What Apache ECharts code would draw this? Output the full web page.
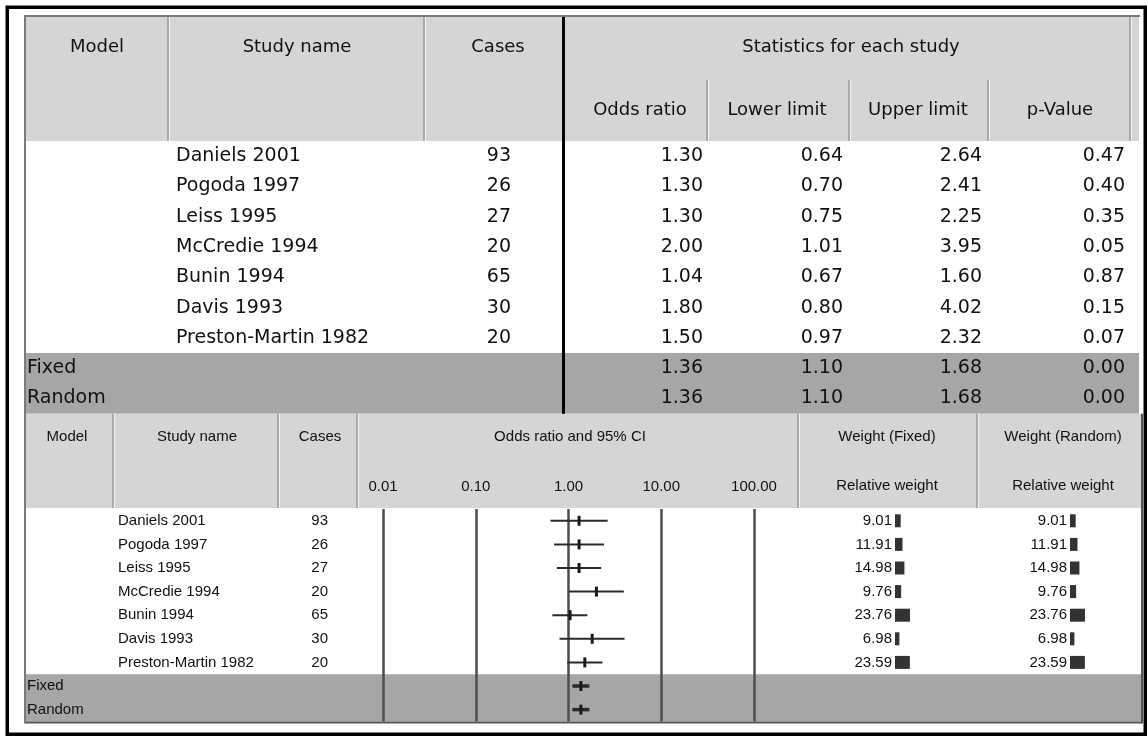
<!DOCTYPE html>
<html>
<head>
<meta charset="utf-8">
<script src="https://cdn.jsdelivr.net/npm/echarts@6/dist/echarts.min.js"></script>
<style>
  html, body { margin: 0; padding: 0; background: #fff; }
  #chart { width: 1148px; height: 736px; }
</style>
</head>
<body>
<div id="chart"></div>
<script>
// ---- data ----
const studies = ['Daniels 2001', 'Pogoda 1997', 'Leiss 1995', 'McCredie 1994', 'Bunin 1994', 'Davis 1993', 'Preston-Martin 1982'];
const cases = [93, 26, 27, 20, 65, 30, 20];
const oddsRatio = [1.30, 1.30, 1.30, 2.00, 1.04, 1.80, 1.50];
const lowerLimit = [0.64, 0.70, 0.75, 1.01, 0.67, 0.80, 0.97];
const upperLimit = [2.64, 2.41, 2.25, 3.95, 1.60, 4.02, 2.32];
const pValue = [0.47, 0.40, 0.35, 0.05, 0.87, 0.15, 0.07];
const models = ['Fixed', 'Random'];
const pooledOR = [1.36, 1.36];
const pooledLower = [1.10, 1.10];
const pooledUpper = [1.68, 1.68];
const pooledP = [0.00, 0.00];
const weightFixed = [9.01, 11.91, 14.98, 9.76, 23.76, 6.98, 23.59];
const weightRandom = [9.01, 11.91, 14.98, 9.76, 23.76, 6.98, 23.59];
const scaleTicks = [0.01, 0.10, 1.00, 10.00, 100.00];

// ---- layout ----
const rowKeys = studies.concat(models);
const nStudies = studies.length;
const UP = { top: 141, rowH: 30.3 };
const LOW = { top: 509, rowH: 23.6 };
const upFont = '19px "DejaVu Sans", sans-serif';
const upHeadFont = '18px "DejaVu Sans", sans-serif';
const lowFamily = '"Liberation Sans", sans-serif';
const lowFont = '15px ' + lowFamily;
const ink = '#111';
const fmt = v => Number(v).toFixed(2);

function txt(x, y, text, font, align, z) {
  return {
    type: 'text', x: x, y: y, z: z || 60, silent: true,
    style: { text: text, font: font, fill: ink, align: align || 'center', verticalAlign: 'middle',
             textAlign: align || 'center', textVerticalAlign: 'middle' }
  };
}
function rect(x, y, w, h, fill, z) {
  return { type: 'rect', z: z == null ? -5 : z, silent: true, shape: { x: x, y: y, width: w, height: h }, style: { fill: fill } };
}
function vline(x, y1, y2, color, w, z) {
  return { type: 'line', z: z || 40, silent: true, shape: { x1: x, y1: y1, x2: x, y2: y2 }, style: { stroke: color, lineWidth: w } };
}
function sep(x, y1, y2) {
  // sunken header divider: dark stroke with light edge
  return [vline(x, y1, y2, '#9a9a9a', 1.5), vline(x + 1.5, y1, y2, '#f4f4f4', 1)];
}

const upBandTop = UP.top + nStudies * UP.rowH;
const upBottom = UP.top + rowKeys.length * UP.rowH;
const lowBandTop = LOW.top + nStudies * LOW.rowH;
const lowBottom = LOW.top + rowKeys.length * LOW.rowH;

const graphics = [
  rect(0, 0, 1148, 736, '#ffffff', -20),
  // upper table
  rect(25, 17, 1114, UP.top - 17, '#d5d5d5'),
  rect(25, upBandTop, 1114, upBottom - upBandTop, '#a6a6a6'),
  ...sep(168, 17, UP.top), ...sep(424, 17, UP.top),
  ...sep(707, 80, UP.top), ...sep(849, 80, UP.top), ...sep(988, 80, UP.top), ...sep(1130, 17, UP.top),
  vline(563.5, 17, upBottom, '#000', 3, 45),
  // lower table
  rect(25, upBottom, 1117, LOW.top - 1 - upBottom, '#d5d5d5'),
  rect(25, lowBandTop, 1117, lowBottom - lowBandTop, '#a6a6a6'),
  ...sep(113, upBottom, LOW.top - 1), ...sep(278, upBottom, LOW.top - 1), ...sep(357, upBottom, LOW.top - 1),
  ...sep(798, upBottom, LOW.top - 1), ...sep(977, upBottom, LOW.top - 1),
  { type: 'line', z: 40, silent: true, shape: { x1: 25, y1: lowBottom + 1, x2: 1142, y2: lowBottom + 1 }, style: { stroke: '#555', lineWidth: 2 } },
  vline(1142, upBottom, lowBottom + 2, '#555', 2),
  // panel edges and outer frame
  { type: 'polyline', z: 40, silent: true, shape: { points: [[25, lowBottom + 2], [25, 16], [1140, 16]] }, style: { stroke: '#7a7a7a', lineWidth: 2, fill: null } },
  { type: 'rect', z: 70, silent: true, shape: { x: 7.25, y: 7.25, width: 1138, height: 727 }, style: { stroke: '#000', lineWidth: 3.5, fill: null } },
  // upper headers
  txt(97, 47, 'Model', upHeadFont), txt(297, 47, 'Study name', upHeadFont), txt(498, 47, 'Cases', upHeadFont),
  txt(851, 47, 'Statistics for each study', upHeadFont),
  txt(640, 110, 'Odds ratio', upHeadFont), txt(777, 110, 'Lower limit', upHeadFont),
  txt(918, 110, 'Upper limit', upHeadFont), txt(1060, 110, 'p-Value', upHeadFont),
  // lower headers
  txt(67, 437, 'Model', lowFont), txt(197, 437, 'Study name', lowFont), txt(320, 437, 'Cases', lowFont),
  txt(570, 437, 'Odds ratio and 95% CI', lowFont),
  txt(887, 437, 'Weight (Fixed)', lowFont), txt(1063, 437, 'Weight (Random)', lowFont),
  txt(887, 486, 'Relative weight', lowFont), txt(1063, 486, 'Relative weight', lowFont)
];

// ---- table bodies drawn row by row on a category axis ----
function upperRow(params, api) {
  const i = params.dataIndex;
  const y = api.coord([0, i])[1];
  const t = (x, s, a) => ({ type: 'text', x: x, y: y, style: { text: s, font: upFont, fill: ink, align: a, verticalAlign: 'middle', textAlign: a, textVerticalAlign: 'middle' } });
  if (i < nStudies) {
    return { type: 'group', children: [
      t(176, studies[i], 'left'), t(511, String(cases[i]), 'right'),
      t(703, fmt(oddsRatio[i]), 'right'), t(843, fmt(lowerLimit[i]), 'right'),
      t(982, fmt(upperLimit[i]), 'right'), t(1125, fmt(pValue[i]), 'right')
    ] };
  }
  const k = i - nStudies;
  return { type: 'group', children: [
    t(27, models[k], 'left'),
    t(703, fmt(pooledOR[k]), 'right'), t(843, fmt(pooledLower[k]), 'right'),
    t(982, fmt(pooledUpper[k]), 'right'), t(1125, fmt(pooledP[k]), 'right')
  ] };
}
function lowerRow(params, api) {
  const i = params.dataIndex;
  const y = api.coord([0, i])[1];
  const t = (x, s, a) => ({ type: 'text', x: x, y: y, style: { text: s, font: lowFont, fill: ink, align: a, verticalAlign: 'middle', textAlign: a, textVerticalAlign: 'middle' } });
  if (i < nStudies) {
    return { type: 'group', children: [t(118, studies[i], 'left'), t(328, String(cases[i]), 'right')] };
  }
  return { type: 'group', children: [t(27, models[i - nStudies], 'left')] };
}

// ---- forest marks: CI line plus point-estimate tick ----
const forestData = rowKeys.map((_, i) => i < nStudies
  ? [lowerLimit[i], upperLimit[i], oddsRatio[i], i]
  : [pooledLower[i - nStudies], pooledUpper[i - nStudies], pooledOR[i - nStudies], i]);

function forestItem(params, api) {
  const row = api.value(3);
  const pooled = params.dataIndex >= nStudies;
  const a = api.coord([api.value(0), row]);
  const b = api.coord([api.value(1), row]);
  const c = api.coord([api.value(2), row]);
  const lw = pooled ? 3.5 : 2;
  return { type: 'group', children: [
    { type: 'line', shape: { x1: a[0], y1: a[1], x2: b[0], y2: b[1] }, style: { stroke: '#2a2a2a', lineWidth: lw } },
    { type: 'rect', shape: { x: c[0] - 1.5, y: c[1] - 5, width: 3, height: 10 }, style: { fill: '#1a1a1a' } }
  ] };
}

const hiddenCat = (grid) => ({ type: 'category', gridIndex: grid, data: rowKeys, inverse: true, show: false });
const pixelX = (grid) => ({ type: 'value', gridIndex: grid, min: 0, max: 1148, show: false });

const option = {
  animation: false,
  backgroundColor: '#ffffff',
  graphic: { elements: graphics },
  grid: [
    { left: 0, width: 1148, top: UP.top, height: UP.rowH * rowKeys.length },
    { left: 0, width: 1148, top: LOW.top, height: LOW.rowH * rowKeys.length },
    { left: 383, width: 371, top: LOW.top, height: LOW.rowH * rowKeys.length },
    { left: 895, width: 25.2, top: LOW.top, height: LOW.rowH * rowKeys.length },
    { left: 1070, width: 25.2, top: LOW.top, height: LOW.rowH * rowKeys.length }
  ],
  xAxis: [
    pixelX(0), pixelX(1),
    { type: 'log', logBase: 10, gridIndex: 2, min: scaleTicks[0], max: scaleTicks[scaleTicks.length - 1], position: 'top',
      axisLine: { show: false }, axisTick: { show: false },
      axisLabel: { margin: 15, color: ink, fontSize: 15, fontFamily: lowFamily, formatter: v => fmt(v) },
      splitLine: { show: true, lineStyle: { color: '#4d4d4d', width: 2.5 } } },
    { type: 'value', gridIndex: 3, min: 0, max: 40, show: false },
    { type: 'value', gridIndex: 4, min: 0, max: 40, show: false }
  ],
  yAxis: [hiddenCat(0), hiddenCat(1), hiddenCat(2), hiddenCat(3), hiddenCat(4)],
  series: [
    { type: 'custom', xAxisIndex: 0, yAxisIndex: 0, silent: true, clip: false, z: 10,
      data: rowKeys.map((_, i) => [0, i]), encode: { x: 0, y: 1 }, renderItem: upperRow },
    { type: 'custom', xAxisIndex: 1, yAxisIndex: 1, silent: true, clip: false, z: 10,
      data: rowKeys.map((_, i) => [0, i]), encode: { x: 0, y: 1 }, renderItem: lowerRow },
    { type: 'custom', xAxisIndex: 2, yAxisIndex: 2, silent: true, clip: false, z: 10,
      data: forestData, encode: { x: [0, 1, 2], y: 3 }, renderItem: forestItem },
    { type: 'bar', xAxisIndex: 3, yAxisIndex: 3, silent: true, data: weightFixed, barWidth: 13,
      itemStyle: { color: '#333' },
      label: { show: true, position: 'left', distance: 3, color: ink, fontSize: 15, fontFamily: lowFamily,
               formatter: p => fmt(p.value) } },
    { type: 'bar', xAxisIndex: 4, yAxisIndex: 4, silent: true, data: weightRandom, barWidth: 13,
      itemStyle: { color: '#333' },
      label: { show: true, position: 'left', distance: 3, color: ink, fontSize: 15, fontFamily: lowFamily,
               formatter: p => fmt(p.value) } }
  ]
};

const chart = echarts.init(document.getElementById('chart'), null, { renderer: 'canvas' });
chart.setOption(option);
</script>
</body>
</html>
